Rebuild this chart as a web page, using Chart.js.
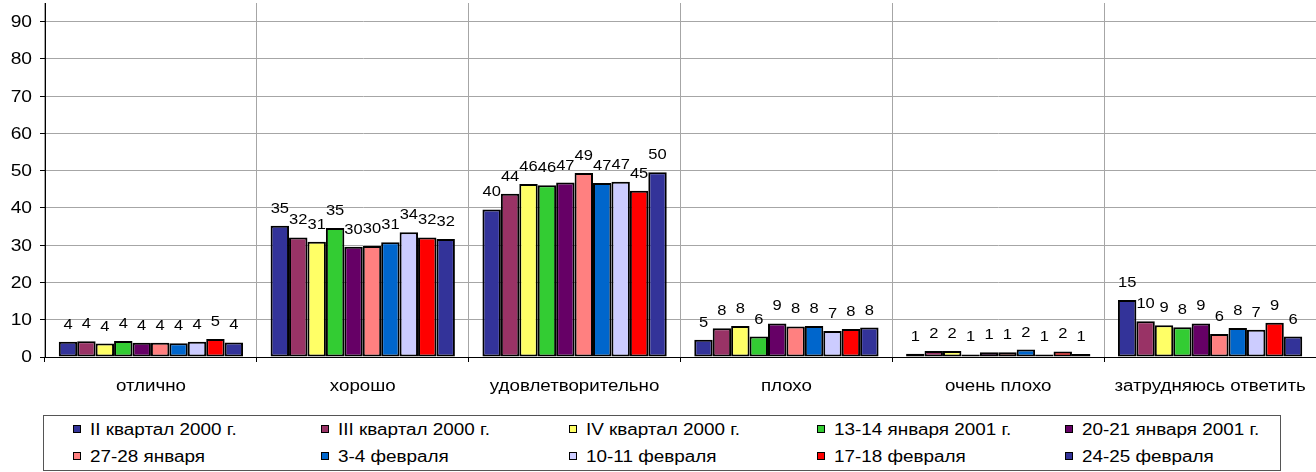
<!DOCTYPE html>
<html>
<head>
<meta charset="utf-8">
<script src="https://cdn.jsdelivr.net/npm/chart.js@4/dist/chart.umd.min.js"></script>
<style>
  html, body { margin: 0; padding: 0; background: #fff; }
  body { width: 1316px; height: 472px; position: relative; overflow: hidden; font-family: "Liberation Sans", Arial, sans-serif; }
  #wrap { position: absolute; left: 0; top: 0; width: 1316px; height: 400px; }
  #legend { position: absolute; left: 43px; top: 415px; width: 1236px; height: 54px; border: 1px solid #555; box-sizing: content-box; }
  .item { position: absolute; font-size: 16px; color: #000; white-space: nowrap; line-height: 18px; }
  .item i { position: absolute; left: 0; top: 4px; width: 6px; height: 6px; border: 1.5px solid #000; }
  .item span { position: absolute; left: 17px; top: 0; display: inline-block; transform: scaleX(1.18); transform-origin: left center; }
</style>
</head>
<body>
<div id="wrap"><canvas id="grafico" width="1316" height="400"></canvas></div>
<div id="legend"></div>
<script>
const categorias = ['отлично', 'хорошо', 'удовлетворительно', 'плохо', 'очень плохо', 'затрудняюсь ответить'];

const series = ['II квартал 2000 г.', 'III квартал 2000 г.', 'IV квартал 2000 г.', '13-14 января 2001 г.', '20-21 января 2001 г.',
                '27-28 января', '3-4 февраля', '10-11 февраля', '17-18 февраля', '24-25 февраля'];

const colores = ['#333399', '#993366', '#FFFF66', '#33CC33', '#660066', '#FF8080', '#0066CC', '#CCCCFF', '#FF0000', '#333399'];

// valores por serie, en el orden de las categorias
const kv2_2000 = [4.1, 35.2, 39.6, 4.6, 0.9, 15.3];
const kv3_2000 = [4.2, 32.1, 43.8, 7.7, 1.6, 9.6];
const kv4_2000 = [3.6, 30.9, 46.4, 8.3, 1.6, 8.5];
const ene13_14 = [4.3, 34.6, 46.1, 5.5, 0.7, 8.0];
const ene20_21 = [3.8, 29.6, 46.8, 9.0, 1.3, 9.0];
const ene27_28 = [3.8, 29.8, 49.4, 8.2, 1.3, 6.2];
const feb3_4 = [3.7, 30.8, 46.7, 8.3, 2.0, 7.8];
const feb10_11 = [4.1, 33.5, 47.0, 7.0, 0.7, 7.3];
const feb17_18 = [4.8, 32.1, 44.6, 7.5, 1.5, 9.2];
const feb24_25 = [3.9, 31.7, 49.6, 7.9, 0.8, 5.5];

const valores = [kv2_2000, kv3_2000, kv4_2000, ene13_14, ene20_21, ene27_28, feb3_4, feb10_11, feb17_18, feb24_25];

const ticksY = [0, 10, 20, 30, 40, 50, 60, 70, 80, 90];

const FUENTE = '"Liberation Sans", Arial, sans-serif';

// texto ensanchado horizontalmente, como en el original
function texto(ctx, s, x, y, align, ancho) {
    ctx.save();
    ctx.translate(x, y);
    ctx.scale(ancho, 1);
    ctx.textAlign = align;
    ctx.fillText(s, 0, 0);
    ctx.restore();
}

// etiquetas de ejes y de valores
const etiquetas = {
    id: 'etiquetas',
    afterDraw(chart) {
        const ctx = chart.ctx;
        const sx = chart.scales.x, sy = chart.scales.y;
        ctx.save();
        ctx.fillStyle = '#000';

        ctx.font = '16px ' + FUENTE;
        ctx.textBaseline = 'middle';
        ticksY.forEach(v => texto(ctx, String(v), sx.left - 13, sy.getPixelForValue(v) + 1, 'right', 1.2));

        ctx.textBaseline = 'alphabetic';
        categorias.forEach((c, i) => texto(ctx, c, sx.getPixelForValue(i), 391, 'center', 1.17));

        ctx.font = '14px ' + FUENTE;
        chart.data.datasets.forEach((ds, i) => {
            chart.getDatasetMeta(i).data.forEach((bar, j) => {
                texto(ctx, String(Math.round(ds.data[j])), bar.x, bar.y - 13, 'center', 1.18);
            });
        });
        ctx.restore();
    }
};

new Chart(document.getElementById('grafico'), {
    type: 'bar',
    data: {
        labels: categorias,
        datasets: series.map((s, i) => ({
            label: s,
            data: valores[i],
            backgroundColor: colores[i],
            borderColor: '#000',
            borderWidth: 2,
            borderSkipped: false,
            categoryPercentage: 0.87,
            barPercentage: 1
        }))
    },
    options: {
        responsive: false,
        animation: false,
        layout: { padding: { top: 3, right: 0, bottom: 0, left: 0 } },
        plugins: { legend: { display: false }, tooltip: { enabled: false } },
        scales: {
            x: {
                afterFit: s => { s.height = 43; s.paddingLeft = 0; s.paddingRight = 0; },
                grid: { offset: true, color: '#a6a6a6', tickColor: '#000', tickLength: 5 },
                border: { color: '#000', width: 1 },
                ticks: { display: false }
            },
            y: {
                min: 0,
                max: 95,
                afterFit: s => { s.width = 45; s.paddingTop = 0; s.paddingBottom = 0; },
                afterBuildTicks: s => { s.ticks = ticksY.map(v => ({ value: v })); },
                grid: { color: '#a6a6a6', tickColor: '#000', tickLength: 5 },
                border: { color: '#000', width: 1 },
                ticks: { display: false }
            }
        }
    },
    plugins: [etiquetas]
});

// leyenda en dos filas de cinco
const leg = document.getElementById('legend');
series.forEach((s, i) => {
    const d = document.createElement('div');
    d.className = 'item';
    d.style.left = (29 + (i % 5) * 248) + 'px';
    d.style.top = (5 + Math.floor(i / 5) * 27) + 'px';
    d.innerHTML = `<i style="background:${colores[i]}"></i><span>${s}</span>`;
    leg.appendChild(d);
});
</script>
</body>
</html>
